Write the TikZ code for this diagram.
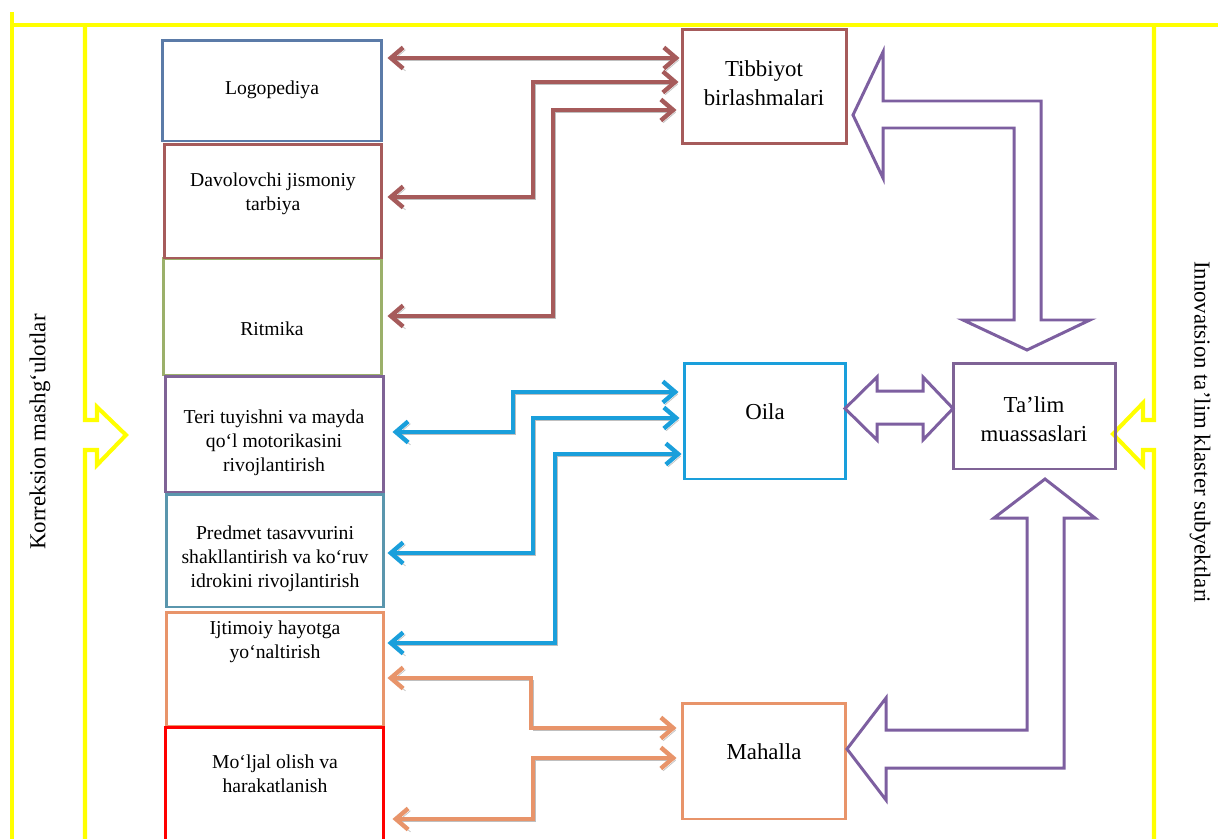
\documentclass[tikz,border=0pt]{standalone}
\usepackage{fontspec}
\setmainfont{Liberation Serif}
\usetikzlibrary{arrows.meta,calc}
\definecolor{yel}{HTML}{FFFF00}
\definecolor{cblue}{HTML}{5B7BA8}
\definecolor{cbrown}{HTML}{A65B5B}
\definecolor{colive}{HTML}{9BB06A}
\definecolor{cpurp}{HTML}{7F6396}
\definecolor{cteal}{HTML}{5A96AD}
\definecolor{corange}{HTML}{E8946A}
\definecolor{cred}{HTML}{FF0000}
\definecolor{csky}{HTML}{1A9FDB}
\definecolor{cblock}{HTML}{7D5FA0}
\tikzset{
  box/.style={draw, line width=1.7pt, rectangle, inner sep=0pt},
  lbl/.style={align=center, inner sep=0pt, font=\fontsize{11.2}{13.8}\selectfont},
  rlbl/.style={align=center, inner sep=0pt, font=\fontsize{13}{16.4}\selectfont},
  side/.style={inner sep=0pt, font=\fontsize{13}{16}\selectfont},
  frame/.style={draw=yel, line width=2.3pt, line join=miter},
  conn/.style={line width=2.5pt, line join=miter,
    arrows={-Straight Barb[length=7pt,width=12pt]},
    preaction={draw=black!45, opacity=0.55, transform canvas={shift={(1.3pt,-1.3pt)}}}},
  bconn/.style={conn, arrows={Straight Barb[length=7pt,width=12pt]-Straight Barb[length=7pt,width=12pt]}},
  blockarrow/.style={draw=cblock, line width=1.7pt, line join=miter, fill=white}
}
\begin{document}
\begin{tikzpicture}[x=0.02cm, y=-0.02cm]
\useasboundingbox (0,0) rectangle (1218,839);
\clip (0,0) rectangle (1218,839);
\fill[white] (0,0) rectangle (1218,839);

% yellow frame
\draw[frame] (12,12) -- (12,845);
\draw[frame] (12,25) -- (1225,25);
\draw[frame] (85,27) -- (85,420) -- (97,420) -- (97,407) -- (126,435) -- (97,465) -- (97,450) -- (85,450) -- (85,845);
\draw[frame] (1154,25) -- (1154,420) -- (1143,420) -- (1143,403) -- (1113,434) -- (1143,465) -- (1143,450) -- (1154,450) -- (1154,845);

\node[side, rotate=90] (korr) at (40,432) {Korreksion mashg‘ulotlar};
\node[side, rotate=-90] (innov) at (1200,432) {Innovatsion ta’lim klaster subyektlari};

% left column boxes
\node[box, draw=colive, minimum width=4.38cm, minimum height=2.34cm] (rit) at (272.5,316.5) {};
\node[box, draw=cbrown, minimum width=4.36cm, minimum height=2.28cm] (davo) at (273,201) {};
\node[box, draw=cblue, minimum width=4.4cm, minimum height=2.02cm] (logo) at (272,90.5) {};
\node[box, draw=cpurp, minimum width=4.38cm, minimum height=2.32cm] (teri) at (274.5,434) {};
\node[box, draw=cteal, minimum width=4.36cm, minimum height=2.26cm] (pred) at (275,550.5) {};
\node[box, draw=corange, minimum width=4.36cm, minimum height=2.28cm] (ijt) at (275,669) {};
\node[box, draw=cred, minimum width=4.38cm, minimum height=2.46cm] (molj) at (274.5,788.5) {};

\node[lbl] (tlogo) at (272,90) {Logopediya};
\node[lbl] (tdavo) at (273,194) {Davolovchi jismoniy\\tarbiya};
\node[lbl] (trit) at (272,329) {Ritmika};
\node[lbl] (tteri) at (274,443) {Teri tuyishni va mayda\\qo‘l motorikasini\\rivojlantirish};
\node[lbl] (tpred) at (275,559) {Predmet tasavvurini\\shakllantirish va ko‘ruv\\idrokini rivojlantirish};
\node[lbl] (tijt) at (275,642) {Ijtimoiy hayotga\\yo‘naltirish};
\node[lbl] (tmolj) at (275,774) {Mo‘ljal olish va\\harakatlanish};

% right boxes
\node[box, draw=cbrown, minimum width=3.3cm, minimum height=2.3cm] (tib) at (764.5,86.5) {};
\node[box, draw=csky, minimum width=3.24cm, minimum height=2.32cm] (oila) at (765,421) {};
\node[box, draw=corange, minimum width=3.28cm, minimum height=2.32cm] (mah) at (764,761) {};
\node[box, draw=cpurp, minimum width=3.26cm, minimum height=2.12cm] (talim) at (1034.5,416) {};

\node[rlbl] (ttib) at (764,83) {Tibbiyot\\birlashmalari};
\node[rlbl] (toila) at (765,412) {Oila};
\node[rlbl] (tmah) at (764,752) {Mahalla};
\node[rlbl] (ttalim) at (1034,419) {Ta’lim\\muassaslari};

% brown connectors
\draw[bconn, draw=cbrown] ($(logo.east |- 0,58)+(4,0)$) -- ($(tib.west |- 0,58)+(-1,0)$);
\draw[bconn, draw=cbrown] ($(davo.east |- 0,197)+(4,0)$) -- (533,197) -- (533,82) -- ($(tib.west |- 0,82)+(-2,0)$);
\draw[bconn, draw=cbrown] ($(rit.east |- 0,316)+(4,0)$) -- (553,316) -- (553,110) -- ($(tib.west |- 0,110)+(-4,0)$);

% blue connectors
\draw[bconn, draw=csky] ($(teri.east |- 0,432)+(7,0)$) -- (513,432) -- (513,392) -- ($(oila.west |- 0,392)+(-4,0)$);
\draw[bconn, draw=csky] ($(pred.east |- 0,553)+(2,0)$) -- (533,553) -- (533,418) -- ($(oila.west |- 0,418)+(-3,0)$);
\draw[bconn, draw=csky] ($(ijt.east |- 0,643)+(2,0)$) -- (555,643) -- (555,454) -- ($(oila.west |- 0,454)+(-1,0)$);

% orange connectors
\draw[bconn, draw=corange] ($(ijt.east |- 0,678)+(2,0)$) -- (531,678) -- (531,728) -- ($(mah.west |- 0,728)+(-4,0)$);
\draw[bconn, draw=corange] ($(molj.east |- 0,819)+(7,0)$) -- (533,819) -- (533,758) -- ($(mah.west |- 0,758)+(-4,0)$);

% purple block arrows
\draw[blockarrow] (853,115) -- (883,52) -- (883,101) -- (1041,101) -- (1041,320) -- (1090,320) -- (1027,350) -- (963,320) -- (1014,320) -- (1014,128) -- (883,128) -- (883,178) -- cycle;
\draw[blockarrow] (845,408.5) -- (877,377) -- (877,391) -- (923,391) -- (923,377) -- (953,408.5) -- (923,440) -- (923,424) -- (877,424) -- (877,440) -- cycle;
\draw[blockarrow] (1045,479) -- (1095,518) -- (1064,518) -- (1064,768) -- (886,768) -- (886,800) -- (847,749) -- (886,698) -- (886,730) -- (1027,730) -- (1027,518) -- (994,518) -- cycle;
\end{tikzpicture}
\end{document}
